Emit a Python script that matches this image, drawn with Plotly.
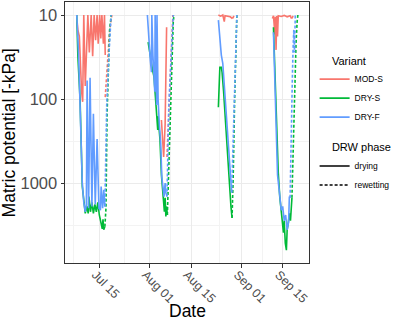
import plotly.graph_objects as go

# ---------------- data ----------------
variants = ["MOD-S", "DRY-S", "DRY-F"]
colors = {"MOD-S": "#F8766D", "DRY-S": "#00BA38", "DRY-F": "#619CFF"}

x_tick_vals = ["2021-07-15", "2021-08-01", "2021-08-15", "2021-09-01", "2021-09-15"]
x_tick_text = ["Jul 15", "Aug 01", "Aug 15", "Sep 01", "Sep 15"]
x_minor_vals = ["2021-07-06 06:00", "2021-07-23 12:00", "2021-08-08", "2021-08-24 12:00", "2021-09-08"]
y_tick_vals = [10, 100, 1000]
y_tick_text = ["10", "100", "1000"]
y_minor_vals = [31.62, 316.2, 3162]

# MOD-S drying
mods_dry_t = ["2021-07-07 12:00", "2021-07-07 18:00", "2021-07-08 06:00", "2021-07-08 12:00", "2021-07-09 00:00",
              "2021-07-09 09:00", "2021-07-09 18:00", "2021-07-10 06:00", "2021-07-11 03:00", "2021-07-11 15:00",
              "2021-07-12 06:00", "2021-07-12 18:00", "2021-07-13 06:00", "2021-07-13 18:00", "2021-07-14 06:00",
              "2021-07-14 15:00", "2021-07-15 03:00", "2021-07-15 12:00", "2021-07-15 21:00", "2021-07-16 09:00",
              "2021-07-16 18:00", "2021-07-17 00:00", None,
              "2021-08-05 00:00", "2021-08-05 12:00", "2021-08-05 18:00", "2021-08-06 06:00", "2021-08-06 12:00",
              "2021-08-06 18:00", None,
              "2021-08-24 06:00", "2021-08-25 00:00", "2021-08-25 18:00", "2021-08-26 06:00", "2021-08-26 12:00",
              "2021-08-27 12:00", "2021-08-28 06:00", "2021-08-29 00:00", None,
              "2021-09-11 12:00", "2021-09-11 21:00", "2021-09-12 09:00", "2021-09-12 12:00", "2021-09-12 18:00",
              "2021-09-13 00:00", "2021-09-13 06:00", "2021-09-13 12:00", "2021-09-14 12:00", "2021-09-15 12:00",
              "2021-09-16 12:00", "2021-09-17 12:00", "2021-09-18 00:00"]
mods_dry_v = [12, 15, 18, 35, 80,
              108, 10, 70, 10, 28,
              10, 31, 10, 20, 10,
              22, 10, 19, 10, 22,
              10, 30, None,
              178, 300, 490, 200, 60,
              14, None,
              10, 10.3, 10, 12, 10.2,
              10.3, 10.5, 11, None,
              11, 10.2, 17, 10.5, 26,
              10.3, 18, 10.2, 10.4, 10.1,
              10.5, 10.2, 11]

# MOD-S rewetting
mods_rew_t = ["2021-07-17 00:00", "2021-07-17 18:00", "2021-07-18 12:00", "2021-07-19 06:00", None,
              "2021-08-06 21:00", "2021-08-07 12:00", "2021-08-08 00:00", "2021-08-08 12:00", "2021-08-08 21:00", None,
              "2021-08-29 00:00", "2021-08-29 18:00", None,
              "2021-09-18 00:00", "2021-09-18 18:00"]
mods_rew_v = [95, 40, 15, 10, None,
              490, 150, 48, 17, 10, None,
              11, 10, None,
              11, 10]

# DRY-S drying
drys_dry_t = ["2021-07-07 09:00", "2021-07-07 18:00", "2021-07-08 12:00", "2021-07-08 18:00", "2021-07-09 06:00",
              "2021-07-10 06:00", "2021-07-10 18:00", "2021-07-11 06:00", "2021-07-11 12:00", "2021-07-12 00:00",
              "2021-07-12 12:00", "2021-07-13 00:00", "2021-07-13 12:00", "2021-07-14 00:00", "2021-07-14 12:00",
              "2021-07-15 00:00", "2021-07-15 12:00", "2021-07-16 00:00", "2021-07-16 06:00", "2021-07-16 12:00",
              "2021-07-16 21:00", None,
              "2021-07-31 12:00", "2021-08-01 00:00", "2021-08-01 12:00", "2021-08-02 00:00", "2021-08-02 12:00",
              "2021-08-02 18:00", "2021-08-03 06:00", "2021-08-03 12:00", "2021-08-03 18:00", "2021-08-03 21:00",
              "2021-08-04 12:00", "2021-08-05 00:00", "2021-08-05 12:00", "2021-08-06 00:00", "2021-08-06 06:00",
              "2021-08-06 12:00", "2021-08-06 18:00", "2021-08-07 00:00", None,
              "2021-08-24 06:00", "2021-08-24 12:00", "2021-08-24 18:00", "2021-08-25 06:00", "2021-08-25 12:00",
              "2021-08-26 00:00", "2021-08-26 12:00", "2021-08-27 00:00", "2021-08-27 12:00", "2021-08-28 00:00",
              "2021-08-28 12:00", "2021-08-28 21:00", None,
              "2021-09-11 21:00", "2021-09-12 06:00", "2021-09-12 12:00", "2021-09-12 18:00", "2021-09-13 06:00",
              "2021-09-13 12:00", "2021-09-14 00:00", "2021-09-14 09:00", "2021-09-14 18:00", "2021-09-15 06:00",
              "2021-09-15 12:00", "2021-09-15 21:00", "2021-09-16 06:00", "2021-09-16 12:00", "2021-09-16 21:00",
              "2021-09-17 06:00", "2021-09-17 15:00", "2021-09-17 21:00", "2021-09-18 03:00"]
drys_dry_v = [10, 31, 103, 308, 1100,
              2300, 1900, 2300, 1450, 2200,
              1700, 2300, 1800, 2200, 1700,
              2400, 2800, 3500, 2700, 3600,
              3300, None,
              21, 28, 35, 45, 55,
              74, 110, 140, 234, 160,
              300, 800, 1400, 2200, 1500,
              2500, 1900, 2400, None,
              125, 60, 42, 42, 48,
              80, 150, 300, 600, 1200,
              1900, 2600, None,
              14, 35, 100, 190, 420,
              750, 1450, 1900, 2500, 3900,
              2800, 5200, 6300, 3600, 3000,
              2300, 2800, 1700, 1500]

# DRY-S rewetting
drys_rew_t = ["2021-07-16 21:00", "2021-07-17 06:00", "2021-07-17 15:00", "2021-07-18 00:00", "2021-07-18 12:00",
              "2021-07-19 00:00", None,
              "2021-08-07 00:00", "2021-08-07 12:00", "2021-08-08 00:00", "2021-08-08 12:00", "2021-08-09 00:00",
              "2021-08-09 06:00", None,
              "2021-08-28 21:00", "2021-08-29 06:00", "2021-08-29 18:00", "2021-08-30 06:00", "2021-08-30 12:00", None,
              "2021-09-18 03:00", "2021-09-18 12:00", "2021-09-18 21:00", "2021-09-19 06:00", "2021-09-19 12:00",
              "2021-09-19 21:00", "2021-09-20 03:00"]
drys_rew_v = [3300, 2000, 150, 40, 15,
              10, None,
              2400, 600, 120, 35, 12,
              10, None,
              2600, 900, 100, 20, 10, None,
              1500, 400, 100, 30, 22,
              12, 10]

# DRY-F drying
dryf_dry_t = ["2021-07-07 09:00", "2021-07-07 18:00", "2021-07-08 00:00", "2021-07-08 06:00", "2021-07-08 12:00",
              "2021-07-08 18:00", "2021-07-09 06:00", "2021-07-09 18:00", "2021-07-10 06:00", "2021-07-10 15:00",
              "2021-07-10 21:00", "2021-07-11 09:00", "2021-07-11 21:00", "2021-07-12 12:00", "2021-07-13 00:00",
              "2021-07-13 15:00", "2021-07-14 06:00", "2021-07-14 21:00", "2021-07-15 09:00", "2021-07-15 15:00",
              "2021-07-16 03:00", "2021-07-16 12:00", "2021-07-16 21:00", None,
              "2021-07-31 06:00", "2021-07-31 12:00", "2021-07-31 18:00", "2021-08-01 06:00", "2021-08-01 15:00",
              "2021-08-01 18:00", "2021-08-02 03:00", "2021-08-02 12:00", "2021-08-02 18:00", "2021-08-02 21:00",
              "2021-08-03 06:00", "2021-08-03 09:00", "2021-08-03 12:00", "2021-08-03 21:00", "2021-08-04 06:00",
              "2021-08-04 12:00", "2021-08-04 18:00", "2021-08-05 03:00", "2021-08-05 12:00", "2021-08-05 21:00",
              "2021-08-06 06:00", "2021-08-06 12:00", "2021-08-06 21:00", None,
              "2021-08-24 06:00", "2021-08-24 18:00", "2021-08-25 06:00", "2021-08-25 18:00", "2021-08-26 06:00",
              "2021-08-26 18:00", "2021-08-27 06:00", "2021-08-27 18:00", "2021-08-28 06:00", "2021-08-28 18:00", None,
              "2021-09-11 21:00", "2021-09-12 06:00", "2021-09-12 12:00", "2021-09-12 18:00", "2021-09-13 06:00",
              "2021-09-14 00:00", "2021-09-14 12:00", "2021-09-15 00:00", "2021-09-15 12:00", "2021-09-16 00:00",
              "2021-09-16 12:00", "2021-09-17 00:00", "2021-09-17 06:00", "2021-09-17 12:00"]
dryf_dry_v = [10, 16, 30, 60, 150,
              400, 1000, 1700, 2200, 1800,
              60, 2000, 56, 1900, 150,
              1800, 300, 2000, 2100, 1100,
              2000, 1200, 1900, None,
              10, 14, 22, 35, 48,
              10, 30, 60, 82, 10,
              60, 118, 10, 100, 190,
              230, 335, 850, 1100, 1450,
              1000, 1300, 1450, None,
              11.5, 20, 30, 38, 70,
              120, 250, 480, 800, 1300, None,
              16, 40, 118, 200, 800,
              1400, 2100, 1900, 2800, 2400,
              3600, 2900, 1450, 1500]

# DRY-F rewetting
dryf_rew_t = ["2021-07-16 21:00", "2021-07-17 06:00", "2021-07-17 12:00", "2021-07-18 06:00", "2021-07-18 18:00",
              "2021-07-19 00:00", None,
              "2021-08-06 21:00", "2021-08-07 06:00", "2021-08-07 12:00", "2021-08-08 00:00", "2021-08-08 15:00",
              "2021-08-09 00:00", None,
              "2021-08-28 18:00", "2021-08-29 06:00", "2021-08-29 18:00", "2021-08-30 03:00", "2021-08-30 12:00", None,
              "2021-09-17 12:00", "2021-09-18 00:00", "2021-09-18 06:00", "2021-09-18 12:00", "2021-09-18 18:00",
              "2021-09-19 00:00", "2021-09-19 06:00"]
dryf_rew_v = [1900, 300, 118, 30, 11,
              10, None,
              1450, 300, 120, 50, 20,
              10, None,
              1300, 300, 50, 15, 10, None,
              1500, 300, 60, 25, 15,
              28, 10]

series = {
    "MOD-S": (mods_dry_t, mods_dry_v, mods_rew_t, mods_rew_v),
    "DRY-S": (drys_dry_t, drys_dry_v, drys_rew_t, drys_rew_v),
    "DRY-F": (dryf_dry_t, dryf_dry_v, dryf_rew_t, dryf_rew_v),
}
phases = ["drying", "rewetting"]

# ---------------- figure ----------------
FONT = "Liberation Sans, Arial, sans-serif"
LW = 1.6
DASH = "3px,2px"
PAD = "\u00a0" * 5

fig = go.Figure()
for var in variants:
    dt, dv, rt, rv = series[var]
    fig.add_trace(go.Scatter(x=dt, y=dv, mode="lines", name=var, legend="legend",
                             line=dict(color=colors[var], width=LW), connectgaps=False,
                             showlegend=True))
    fig.add_trace(go.Scatter(x=rt, y=rv, mode="lines", name=var + " rewetting", legend="legend",
                             line=dict(color=colors[var], width=LW, dash=DASH), connectgaps=False,
                             showlegend=False))

for ph, ds in zip(phases, ["solid", DASH]):
    fig.add_trace(go.Scatter(x=[None], y=[None], mode="lines", name=ph, legend="legend2",
                             line=dict(color="black", width=LW, dash=ds), showlegend=True))

axis_common = dict(showline=True, mirror=True, linecolor="#333333", linewidth=1,
                   ticks="outside", ticklen=3.5, tickwidth=1, tickcolor="#333333",
                   showgrid=True, gridcolor="#EBEBEB", gridwidth=1.1, zeroline=False,
                   automargin=False)

fig.update_layout(
    width=400, height=321,
    margin=dict(l=65, r=91, t=2, b=58),
    paper_bgcolor="white", plot_bgcolor="white",
    font=dict(family=FONT, color="black"),
    xaxis=dict(type="date", range=["2021-07-03 09:36", "2021-09-23 21:20"],
               tickmode="array", tickvals=x_tick_vals, ticktext=x_tick_text,
               tickangle=45, tickfont=dict(size=12.5, color="#4D4D4D", family=FONT),
               ticklabelshift=-4, ticklabelstandoff=-5,
               minor=dict(tickmode="array", tickvals=x_minor_vals, showgrid=True,
                          gridcolor="#F3F3F3", gridwidth=0.6, ticks=""),
               **axis_common),
    yaxis=dict(type="log", range=[3.952, 0.845],
               tickmode="array", tickvals=y_tick_vals, ticktext=y_tick_text,
               tickfont=dict(size=16.5, color="#4D4D4D", family=FONT),
               minor=dict(tickmode="array", tickvals=y_minor_vals, showgrid=True,
                          gridcolor="#F3F3F3", gridwidth=0.6, ticks=""),
               **axis_common),
    legend=dict(title=dict(text=PAD + "Variant", font=dict(size=11, color="black")),
                font=dict(size=8.5, color="black"), x=1.023, y=0.815, xanchor="left", yanchor="top",
                bgcolor="rgba(0,0,0,0)", itemwidth=30, tracegroupgap=0),
    legend2=dict(title=dict(text=PAD + "DRW phase", font=dict(size=11, color="black")),
                 font=dict(size=8.5, color="black"), x=1.023, y=0.482, xanchor="left", yanchor="top",
                 bgcolor="rgba(0,0,0,0)", itemwidth=30, tracegroupgap=0),
    annotations=[
        dict(text="Date", xref="paper", yref="paper", x=0.5, y=-0.183, xanchor="center", yanchor="middle",
             showarrow=False, font=dict(size=17.5, color="black", family=FONT)),
        dict(text="Matric potential [-kPa]", xref="paper", yref="paper", x=-0.23, y=0.5,
             xanchor="center", yanchor="middle", textangle=-90,
             showarrow=False, font=dict(size=17.5, color="black", family=FONT)),
    ],
)

fig.write_html("out.html", config={"displayModeBar": False},
               post_script="document.body.style.margin='0';document.body.style.padding='0';")
